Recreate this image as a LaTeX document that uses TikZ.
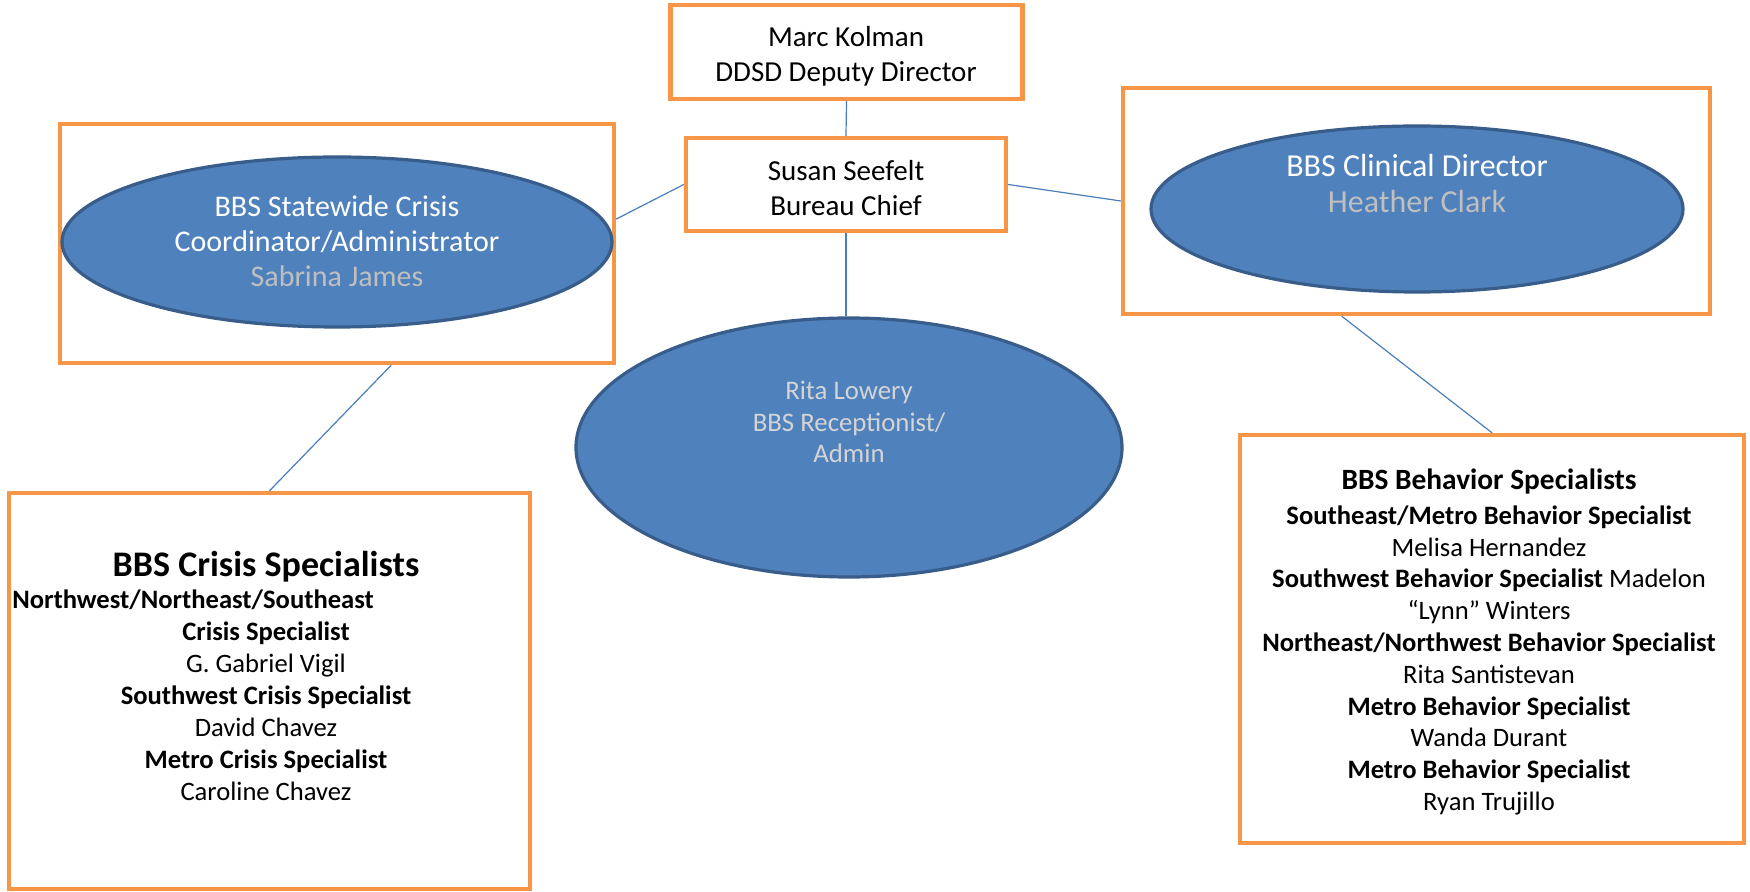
\documentclass[tikz,border=0pt]{standalone}
\usepackage{fontspec}
\setmainfont{Carlito}
\usetikzlibrary{shapes.geometric}

\definecolor{boxorange}{HTML}{F79646}
\definecolor{ellfill}{HTML}{4F81BD}
\definecolor{elldraw}{HTML}{385D8A}
\definecolor{linkblue}{HTML}{4A7EBB}
\definecolor{namegray}{HTML}{BFBFBF}
\definecolor{ritagray}{HTML}{D4D4D4}

\tikzset{
  orgbox/.style={draw=boxorange, line width=2.2pt, fill=white, inner sep=0pt},
  orgell/.style={ellipse, draw=elldraw, line width=1.6pt, fill=ellfill, inner sep=0pt},
  link/.style={draw=linkblue, line width=0.6pt},
  boxtxt/.style={align=center, font=\fontsize{14.5}{17.5}\selectfont},
  elltxt/.style={align=center, text=white, font=\fontsize{15}{17.5}\selectfont},
  listtxt/.style={align=center, font=\fontsize{13.3}{16}\selectfont},
}

\begin{document}
\begin{tikzpicture}[x=0.5pt,y=-0.5pt]
\useasboundingbox (0,0) rectangle (1750,892);

\node[orgbox, minimum width=176pt, minimum height=47pt] (marc) at (846.5,52) {};
\node[boxtxt] (marcname) at (846,56) {Marc Kolman\\DDSD Deputy Director};
\node[orgbox, minimum width=160pt, minimum height=46.5pt] (susan) at (846,184.5) {};
\node[boxtxt] (susanname) at (846,188) {Susan Seefelt\\Bureau Chief};

\node[orgbox, minimum width=277pt, minimum height=119.5pt] (crisisbox) at (337,243.5) {};
\node[orgell, minimum width=275pt, minimum height=85pt] (crisisell) at (337,242) {};
\node[elltxt] (crisisname) at (337,241) {BBS Statewide Crisis\\Coordinator/Administrator\\{\color{namegray}Sabrina James}};

\node[orgbox, minimum width=293.5pt, minimum height=113pt] (clinicbox) at (1416.5,201) {};
\node[orgell, minimum width=266pt, minimum height=83pt] (clinicell) at (1417,209) {};
\node[elltxt, font=\fontsize{16}{18}\selectfont] (clinicname) at (1417,184) {BBS Clinical Director\\{\color{namegray}Heather Clark}};

\node[orgell, minimum width=273pt, minimum height=129.5pt] (rita) at (849,447.5) {};
\node[elltxt, text=ritagray, font=\fontsize{13.4}{15.8}\selectfont] (ritaname) at (849,422) {Rita Lowery\\BBS Receptionist/\\Admin};

\node[orgbox, minimum width=260.5pt, minimum height=198pt] (crisisteam) at (269.5,691) {};
\node[listtxt] (crisislist) at (266,676) {{\fontsize{18}{21}\selectfont\bfseries BBS Crisis Specialists}\\
\mbox{\textbf{Northwest/Northeast/Southeast}\hspace{73pt}}\\
\textbf{Crisis Specialist}\\
G. Gabriel Vigil\\
\textbf{Southwest Crisis Specialist}\\
David Chavez\\
\textbf{Metro Crisis Specialist}\\
Caroline Chavez};

\node[orgbox, minimum width=252pt, minimum height=204pt] (behaviorteam) at (1492,639) {};
\node[listtxt, font=\fontsize{13.3}{15.9}\selectfont] (behaviorlist) at (1489,642) {{\fontsize{14.7}{17}\selectfont\bfseries BBS Behavior Specialists}\\[1.5pt]
\textbf{Southeast/Metro Behavior Specialist}\\
Melisa Hernandez\\
\textbf{Southwest Behavior Specialist} Madelon\\
“Lynn” Winters\\
\textbf{Northeast/Northwest Behavior Specialist}\\
Rita Santistevan\\
\textbf{Metro Behavior Specialist}\\
Wanda Durant\\
\textbf{Metro Behavior Specialist}\\
Ryan Trujillo};

\draw[link] (marc.south) -- (susan.north);
\draw[link] (susan.west) -- (crisisbox.5);
\draw[link] (susan.east) -- (clinicbox.west);
\draw[link] (susan.south) -- (susan.south |- rita.north);
\draw[link] (crisisbox.-66) -- (crisisteam.north);
\draw[link] (clinicbox.-123) -- (behaviorteam.north);
\end{tikzpicture}
\end{document}
